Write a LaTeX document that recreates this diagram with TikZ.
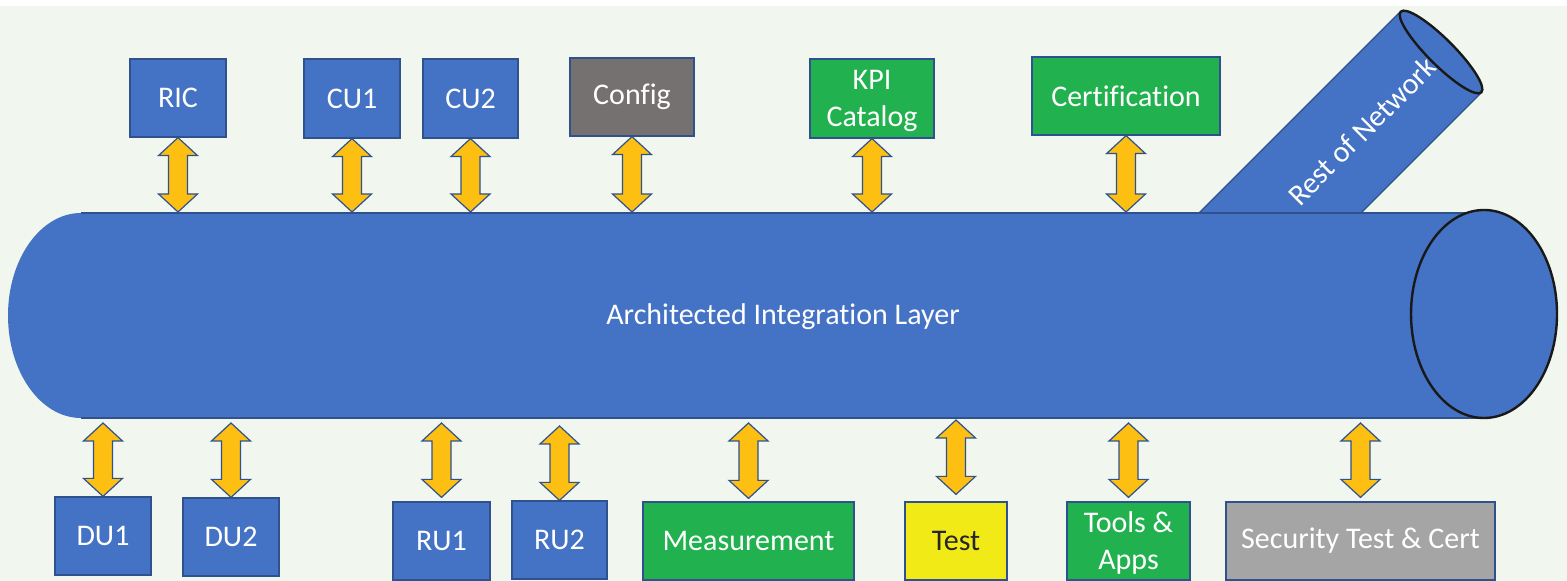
\documentclass[tikz,border=0pt]{standalone}
\usepackage{fontspec}
\setmainfont{Carlito}[Ligatures=NoCommon]
\usetikzlibrary{calc}
\definecolor{pipeblue}{HTML}{4472C4}
\definecolor{edgeblue}{HTML}{2F528F}
\definecolor{boxgreen}{HTML}{21B14F}
\definecolor{darkgrey}{HTML}{767171}
\definecolor{lightgrey}{HTML}{A5A5A6}
\definecolor{testyellow}{HTML}{F2EA17}
\definecolor{linkgold}{HTML}{FCBF12}
\definecolor{paper}{HTML}{F1F6EE}
\tikzset{
  unit/.style={draw=edgeblue, line width=0.6pt, text=white, inner sep=0pt, align=center,
    font=\fontsize{15pt}{18.5pt}\selectfont},
  bluebox/.style={unit, fill=pipeblue},
  greenbox/.style={unit, fill=boxgreen},
  greybox/.style={unit, fill=darkgrey},
  silverbox/.style={unit, fill=lightgrey},
  yellowbox/.style={unit, fill=testyellow, text=black!85},
  twoline/.style={text depth=0pt},
  duplex/.style={fill=linkgold, draw=edgeblue, line width=0.6pt, line join=miter},
  pipetext/.style={text=white, font=\fontsize{15pt}{18pt}\selectfont}
}
% vertical two-headed block arrow from an upper point to a lower point
\newcommand\duplex[2]{%
  \filldraw[duplex] let \p1=(#1), \p2=(#2) in
    (\x1,\y1) -- (\x1+9.75pt,\y1-9pt) -- (\x1+4.75pt,\y1-9pt) -- (\x1+4.75pt,\y2+9pt)
    -- (\x1+9.75pt,\y2+9pt) -- (\x1,\y2) -- (\x1-9.75pt,\y2+9pt) -- (\x1-4.75pt,\y2+9pt)
    -- (\x1-4.75pt,\y1-9pt) -- (\x1-9.75pt,\y1-9pt) -- cycle;}
\begin{document}
\begin{tikzpicture}[x=0.5pt, y=-0.5pt]
\useasboundingbox (0,0) rectangle (1567,581);
\fill[white] (0,0) rectangle (1567,581);
\fill[paper] (0,6) rectangle (1567,581);

% branch pipe towards the rest of the network
\fill[pipeblue] (1182,230) -- (1400,12) -- (1482,92) -- (1344,230) -- cycle;
\draw[edgeblue, line width=0.6pt] (1199,213) -- (1400,12);
\draw[edgeblue, line width=0.6pt] (1361,213) -- (1482,92);
\filldraw[fill=pipeblue, draw=black!90, line width=1.2pt, rotate around={-45:(1441,52)}]
  (1441,52) ellipse [x radius=28.5pt, y radius=6.5pt];
\node[pipetext, rotate=45] (rest) at (1362,131) {Rest of Network};

% main integration pipe
\fill[pipeblue] (81,213) -- (1484,213) -- (1484,418) -- (81,418)
  arc[start angle=270, end angle=90, x radius=36.5pt, y radius=51.25pt] -- cycle;
\draw[edgeblue, line width=0.6pt] (81,213) -- (1484,213);
\draw[edgeblue, line width=0.6pt] (81,418) -- (1484,418);
\filldraw[fill=pipeblue, draw=black!90, line width=1.2pt]
  (1484,314) ellipse [x radius=36.5pt, y radius=52pt];
\node[pipetext] (layer) at (783,317) {Architected Integration Layer};
\coordinate (ctop) at (0,212);
\coordinate (cbot) at (0,423);

% upper components
\node[bluebox, minimum width=48pt, minimum height=39pt] (ric) at (178,98) {RIC};
\node[bluebox, minimum width=48pt, minimum height=39.5pt] (cu1) at (352,98.5) {CU1};
\node[bluebox, minimum width=47.5pt, minimum height=39.5pt] (cu2) at (470.5,98.5) {CU2};
\node[greybox, minimum width=62pt, minimum height=39pt] (config) at (632,97) {Config};
\node[greenbox, twoline, minimum width=62pt, minimum height=39.5pt] (kpi) at (872,98.5) {KPI\\Catalog};
\node[greenbox, minimum width=94pt, minimum height=39pt] (cert) at (1126,96) {Certification};

% lower components
\node[bluebox, minimum width=48pt, minimum height=39pt] (du1) at (103,536) {DU1};
\node[bluebox, minimum width=48pt, minimum height=39pt] (du2) at (231,537) {DU2};
\node[bluebox, minimum width=48.5pt, minimum height=39pt] (ru1) at (441.5,541) {RU1};
\node[bluebox, minimum width=47.5pt, minimum height=39pt] (ru2) at (559.5,540) {RU2};
\node[greenbox, minimum width=105.5pt, minimum height=39pt] (meas) at (748.5,541) {Measurement};
\node[yellowbox, minimum width=51pt, minimum height=39pt] (test) at (956,541) {Test};
\node[greenbox, twoline, minimum width=61.5pt, minimum height=39pt] (tools) at (1128.5,541) {Tools \&\\Apps};
\node[silverbox, minimum width=134.5pt, minimum height=39pt] (sec) at (1360.5,541) {Security Test \& Cert};

% links to the integration layer
\foreach \nm in {ric,cu1,cu2,config,kpi,cert}
  \duplex{\nm.south}{\nm.south |- ctop};
\duplex{du1.north |- cbot}{du1.north}
\duplex{du2.north |- cbot}{du2.north}
\duplex{ru1.north |- cbot}{[yshift=2pt]ru1.north}
\duplex{[yshift=-1.5pt]ru2.north |- cbot}{ru2.north}
\duplex{meas.north |- cbot}{[yshift=1.5pt]meas.north}
\duplex{[yshift=1.5pt]test.north |- cbot}{[yshift=3.5pt]test.north}
\duplex{tools.north |- cbot}{[yshift=2pt]tools.north}
\duplex{sec.north |- cbot}{[yshift=2pt]sec.north}
\end{tikzpicture}
\end{document}
